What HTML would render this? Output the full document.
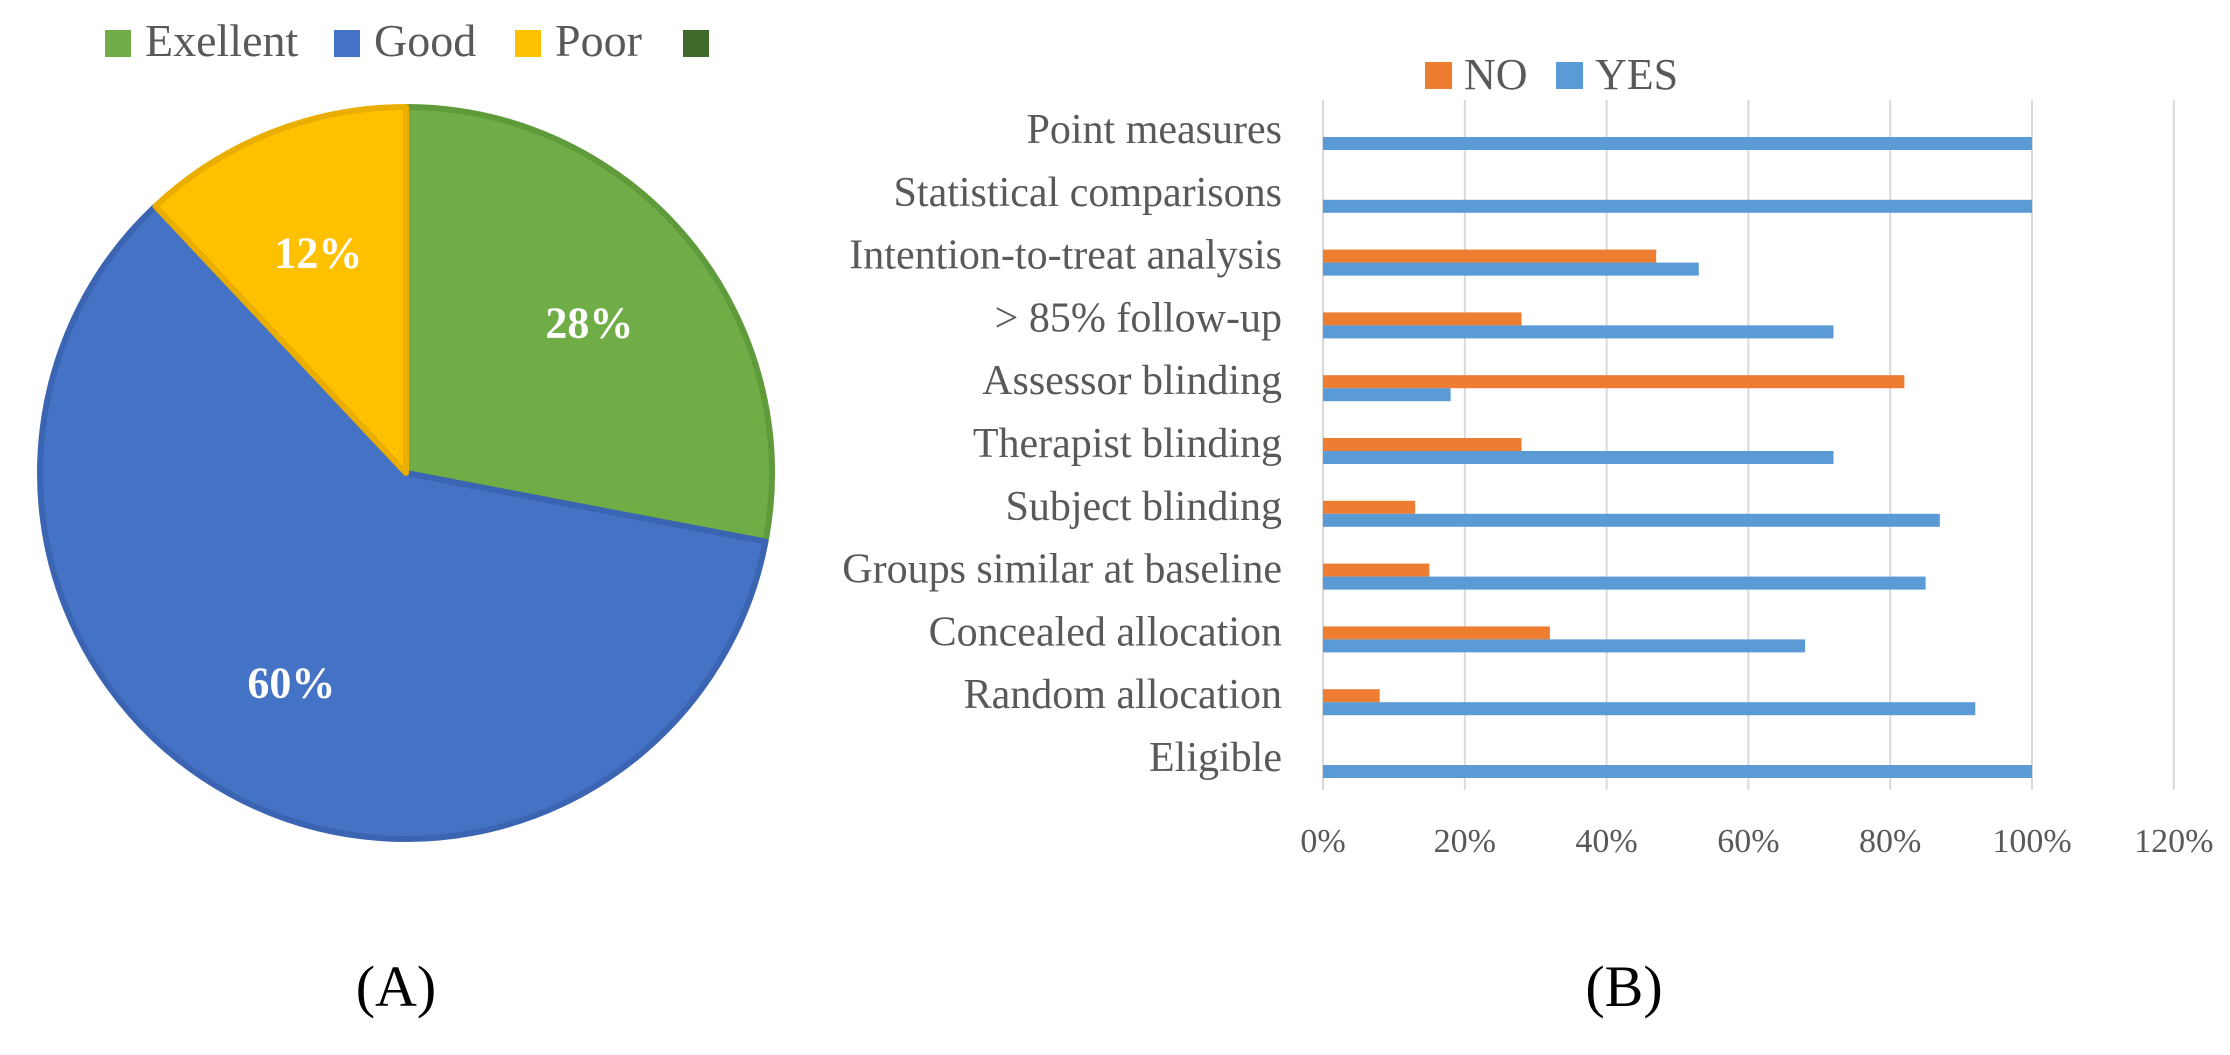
<!DOCTYPE html>
<html><head><meta charset="utf-8"><style>
html,body{margin:0;padding:0;background:#fff;}
svg text{font-family:"Liberation Serif",serif;}
</style></head><body>
<svg id="fig" width="2230" height="1050" viewBox="0 0 2230 1050" xmlns="http://www.w3.org/2000/svg">
<g id="pieLegend"></g>
<g id="pie"></g>
<g id="bar"></g>
<text x="396" y="1006" font-size="58" text-anchor="middle" fill="#000">(A)</text>
<text x="1624" y="1006" font-size="58" text-anchor="middle" fill="#000">(B)</text>
</svg>
<script>
const pieCategories = ["Exellent","Good","Poor"];
const pieValues = [28,60,12];
const pieLabels = ["28%","60%","12%"];
const barCategories = ["Point measures","Statistical comparisons","Intention-to-treat analysis","> 85% follow-up","Assessor blinding","Therapist blinding","Subject blinding","Groups similar at baseline","Concealed allocation","Random allocation","Eligible"];
const noValues = [0,0,47,28,82,28,13,15,32,8,0];
const yesValues = [100,100,53,72,18,72,87,85,68,92,100];
const xTicks = [0,20,40,60,80,100,120];
const xTickLabels = ["0%","20%","40%","60%","80%","100%","120%"];

const NS="http://www.w3.org/2000/svg";
function mk(tag,attrs,parent){const e=document.createElementNS(NS,tag);for(const k in attrs)e.setAttribute(k,attrs[k]);parent.appendChild(e);return e;}

// Pie
const pieG=document.getElementById('pie');
const cx=406, cy=473, r=366;
const fills=["#70ad47","#4472c4","#ffc000"];
const strokes=["#5f9a3b","#3b64b2","#e9ae00"];
const total=pieValues.reduce((a,b)=>a+b,0);
let acc=0;
pieValues.forEach((v,i)=>{
  const a0=acc/total*2*Math.PI; acc+=v; const a1=acc/total*2*Math.PI;
  const px0=cx+r*Math.sin(a0), py0=cy-r*Math.cos(a0), px1=cx+r*Math.sin(a1), py1=cy-r*Math.cos(a1);
  const large=(a1-a0)>Math.PI?1:0;
  const p=mk('path',{d:`M${cx},${cy} L${px0},${py0} A${r},${r} 0 ${large} 1 ${px1},${py1} Z`,fill:fills[i],stroke:strokes[i],'stroke-width':6,'stroke-linejoin':'round'},pieG);
  
  
  const am=(a0+a1)/2, lr=238;
  const t=mk('text',{x:cx+lr*Math.sin(am),y:cy-lr*Math.cos(am)+16,'font-size':44,'font-weight':'bold',fill:'#fff','text-anchor':'middle'},pieG);
  t.textContent=pieLabels[i];
  
  
});

// Pie legend
const lg=document.getElementById('pieLegend');
const legItems=[["Exellent","#70ad47",105],["Good","#4472c4",334],["Poor","#ffc000",515],["","#3f6a2a",683]];
legItems.forEach(([lab,col,lx])=>{
  const s=mk('rect',{x:lx,y:30,width:26,height:27,fill:col},lg);
  
  
  if(lab){const t=mk('text',{x:lx+40,y:56,'font-size':46,fill:'#595959'},lg);t.textContent=lab;
    
    }
});

// Bar chart
const bg=document.getElementById('bar');
const xZero=1323, xHundred=2032, plotTop=100, plotBottom=790;
const xs=v=>xZero+(xHundred-xZero)*v/100;
const firstY=137, step=62.8, bh=13;
xTicks.forEach((t,i)=>{
  const l=mk('line',{x1:xs(t),x2:xs(t),y1:plotTop,y2:plotBottom,stroke:'#d9d9d9','stroke-width':2},bg);
  
  
  const tx=mk('text',{x:xs(t),y:852,'font-size':34,fill:'#595959','text-anchor':'middle'},bg);
  tx.textContent=xTickLabels[i];
  
  
});
barCategories.forEach((c,i)=>{
  const yc=firstY+step*i;
  const slug=c.replace(/[^a-zA-Z0-9]+/g,'-').replace(/^-|-$/g,'').toLowerCase();
  const t=mk('text',{x:1282,y:yc+6,'font-size':42,fill:'#595959','text-anchor':'end'},bg);
  t.textContent=c;
  
  
  if(noValues[i]>0){
    const b=mk('rect',{x:xs(0),y:yc-bh,width:xs(noValues[i])-xs(0),height:bh,fill:'#ed7d31'},bg);
    
    
  }
  const b2=mk('rect',{x:xs(0),y:yc,width:xs(yesValues[i])-xs(0),height:bh,fill:'#5b9bd5'},bg);
  
  
});
// Bar legend
[["NO","#ed7d31",1425],["YES","#5b9bd5",1556]].forEach(([lab,col,lx])=>{
  const s=mk('rect',{x:lx,y:62,width:27,height:27,fill:col},bg);
  
  
  const t=mk('text',{x:lx+39,y:89,'font-size':44,fill:'#595959'},bg);
  t.textContent=lab;
  
  
});
</script>
</body></html>
